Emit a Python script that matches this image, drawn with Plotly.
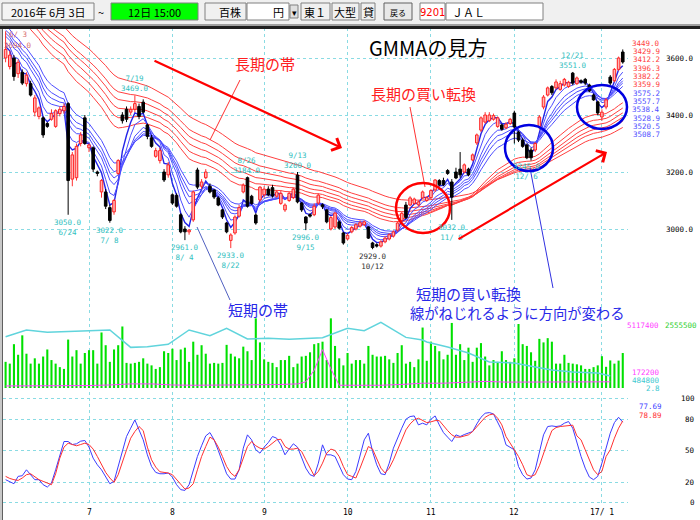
import plotly.graph_objects as go

# ---------------- data ----------------
month_tick_idx = [20, 40, 62, 82, 102, 122, 143]
month_tick_text = ["7", "8", "9", "10", "11", "12", "17/ 1"]
price_ticks = [3000, 3200, 3400, 3600]
price_tick_text = ["3000.0", "3200.0", "3400.0", "3600.0"]
stoch_ticks = [0, 20, 50, 80, 100]

opens = [3600,3570,3600,3545,3550,3510,3510,3410,3395,3390,3370,3385,3360,3405,3415,3440,3175,3180,3300,3390,
         3285,3285,3200,3130,3130,3075,3060,3195,3400,3420,3410,3420,3430,3445,3365,3320,3255,3240,3200,3190,
         3120,3118,3050,3000,2990,3032,3207,3150,3180,3150,3137,3109,3067,3021,2960,2986,3045,3130,3180,3115,3049,3102,
         3120,3140,3145,3115,3090,3067,3100,3110,3189,3091,3042,3050,3050,3091,3085,3067,3000,3007,3025,2986,
         2965,2990,3000,3010,3015,3007,2951,2945,2940,2955,2965,2975,2996,3030,3084,3084,3090,3085,3109,3100,
         3110,3137,3170,3170,3205,3165,3200,3210,3200,3210,3242,3302,3347,3375,3380,3385,3360,3365,3355,3370,
         3407,3340,3312,3295,3277,3277,3358,3428,3470,3500,3495,3490,3505,3500,3547,3510,3520,3525,3505,3470,3446,
         3393,3428,3533,3520,3560,3621]
closes = [3630,3610,3535,3585,3512,3540,3470,3460,3425,3330,3360,3405,3415,3420,3430,3170,3260,3290,3330,3300,
          3295,3210,3195,3170,3080,3030,3100,3240,3380,3385,3420,3440,3395,3410,3325,3290,3275,3275,3172,3225,
          3091,3080,2990,2990,2996,3130,3147,3165,3200,3130,3112,3084,3042,2990,2979,3042,3075,3154,3080,3090,3021,3147,
          3140,3120,3116,3130,3125,3084,3125,3140,3095,3067,3021,3045,3080,3119,3078,3025,3040,3056,3003,2951,
          2978,3005,3015,3022,3025,2968,2935,2940,2955,2968,2980,2990,3021,3055,3040,3109,3105,3095,3130,3110,
          3135,3172,3155,3155,3195,3112,3179,3190,3225,3190,3260,3330,3390,3400,3400,3398,3390,3350,3368,3385,
          3358,3312,3290,3250,3250,3300,3393,3463,3495,3478,3516,3510,3525,3515,3512,3530,3515,3512,3485,3453,3407,
          3410,3453,3512,3560,3600,3586]
highs = [3694,3625,3610,3595,3560,3550,3520,3470,3430,3395,3375,3420,3420,3430,3440,3445,3270,3300,3340,3400,
         3300,3290,3205,3175,3140,3085,3105,3245,3410,3430,3430,3469,3440,3455,3370,3330,3285,3285,3210,3235,
         3125,3125,3055,3010,3000,3135,3215,3175,3210,3160,3140,3115,3070,3025,2985,3048,3085,3160,3184,3120,3055,3150,
         3150,3150,3155,3135,3135,3090,3130,3145,3200,3095,3045,3055,3090,3125,3090,3070,3045,3060,3030,2990,
         2985,3010,3020,3030,3030,3010,2955,2950,2960,2975,2985,2995,3025,3060,3095,3115,3110,3100,3135,3115,
         3140,3175,3175,3180,3210,3175,3215,3270,3230,3215,3265,3335,3395,3410,3410,3405,3395,3370,3375,3390,
         3415,3345,3320,3300,3285,3305,3400,3470,3500,3505,3525,3520,3530,3520,3551,3535,3525,3530,3510,3475,3450,
         3420,3460,3540,3565,3605,3630]
lows = [3585,3560,3520,3530,3505,3500,3465,3395,3385,3320,3355,3380,3355,3395,3405,3050,3150,3170,3290,3295,
        3270,3200,3185,3110,3070,3022,3050,3190,3370,3375,3400,3410,3385,3405,3315,3285,3250,3230,3165,3180,
        3085,3075,2985,2961,2980,3025,3140,3140,3175,3125,3105,3080,3035,2985,2933,2980,3040,3125,3075,3085,3015,3095,
        3110,3115,3110,3110,3085,3060,3095,3105,3090,3060,2996,3040,3045,3085,3070,3020,2995,3000,2998,2945,
        2960,2985,2995,3005,3010,2965,2929,2935,2935,2950,2960,2970,2990,3025,3035,3080,3085,3080,3105,3095,
        3105,3130,3150,3150,3190,3032,3175,3180,3195,3185,3238,3295,3340,3370,3375,3380,3355,3345,3350,3365,
        3300,3305,3285,3245,3240,3270,3350,3420,3465,3470,3490,3485,3500,3495,3505,3505,3510,3505,3480,3450,3400,
        3380,3420,3505,3515,3555,3580]

volume_k = [955,890,1600,1213,1923,1252,890,1084,890,1149,1407,1020,890,762,697,1768,1149,1381,890,1278,
            1381,1381,890,2027,1562,955,1407,1562,2246,917,890,917,955,1084,890,826,697,762,1342,1278,
            1433,1020,1407,1472,955,1691,1213,1562,1252,890,917,890,917,1575,1252,1149,1084,1510,1342,1020,2543,1665,
            1046,955,917,762,1020,1020,1174,762,890,1149,1174,1304,1600,1639,1691,1020,2543,1536,1084,826,
            1278,890,1020,1020,890,1536,1213,1149,1149,1174,1046,917,1278,1562,890,955,762,1046,2207,994,
            1691,1536,1342,1046,1213,2375,1213,1600,1020,1472,955,1472,1639,1149,826,1020,955,1342,1020,955,
            1084,2336,1600,1536,1304,994,1794,1665,1820,1691,890,890,1213,917,890,865,826,697,697,762,826,
            1161,774,1006,890,1000,1277]

margin_buy_idx = [0,5,10,18,25,30,34,39,44,49,53,58,63,68,76,82,86,90,96,100,101,106,111,116,122,127,131,136,142,145]
margin_buy_k = [3750,4240,4070,4165,4240,2970,3020,3190,4240,3825,4360,3580,3630,3555,3680,4360,4190,4800,3700,3510,
                3360,3000,2560,1900,1830,1535,1315,1170,1095,877]
margin_sell_idx = [0,5,10,15,20,25,30,35,40,45,50,55,60,65,70,72,74,76,78,80,85,90,95,100,105,110,115,120,125,130,135,140,145]
margin_sell_k = [150,150,160,170,180,220,300,300,220,200,200,200,220,250,300,450,1300,2800,1400,200,200,200,260,350,350,
                 430,480,430,430,430,430,450,450]

stoch_k = [22.4,20.8,18.5,25.6,26.2,31.9,27.2,22.4,22.4,17.6,15.3,19.2,31.9,46.3,59.1,59.1,56.2,56.9,59.4,60.1,
           53.7,43.1,36.7,31.9,25.6,18.5,20.8,35.1,51.1,63.9,71.9,79.9,70.3,60.7,46.3,35.1,29.4,28.1,28.1,28.8,
           24.9,17.6,12.8,12.1,17.6,30.4,44.7,55.0,64.5,67.7,60.7,50.5,38.3,28.1,23.0,23.0,31.9,52.7,65.5,60.7,51.1,47.9,
           53.7,58.1,63.9,62.3,55.9,46.3,51.8,56.9,53.7,43.1,33.5,27.2,25.6,38.3,55.9,46.3,46.3,44.7,35.1,27.2,
           23.0,22.4,30.4,46.3,60.7,67.1,49.5,36.7,28.1,27.2,38.3,52.7,63.3,71.9,80.5,83.1,83.7,75.1,76.7,75.1,
           80.5,83.7,75.1,67.7,63.3,59.1,65.5,63.9,65.8,67.1,68.7,76.0,82.4,86.3,86.9,85.6,78.3,69.6,55.9,53.7,
           51.1,35.1,27.2,23.0,24.0,31.9,47.9,65.5,73.5,74.1,73.5,74.1,76.7,78.3,71.9,57.5,44.7,33.5,24.9,22.4,25.6,
           38.3,52.7,67.1,77.3,82.4,77.7]
stoch_d = [25.6,23.6,22.4,21.7,24.0,27.2,28.1,24.9,22.4,20.8,19.2,17.6,28.1,43.1,53.7,57.5,56.2,55.0,56.2,57.5,
           56.2,51.8,44.7,37.7,29.4,24.0,19.8,27.2,39.9,51.1,62.3,68.7,73.5,69.6,53.7,41.5,34.5,30.0,29.4,28.8,
           27.2,22.4,17.6,13.4,14.4,18.5,31.9,44.7,54.3,63.3,60.7,53.7,44.7,35.1,28.8,25.6,31.9,43.1,54.3,59.1,55.0,52.7,
           51.8,54.3,57.5,60.7,61.3,54.3,51.8,51.8,52.7,49.5,41.5,33.5,26.2,30.4,38.3,47.9,51.8,50.5,44.7,35.1,
           27.2,25.6,24.0,33.5,44.7,54.3,51.8,43.1,33.5,28.8,33.5,41.5,51.1,60.7,70.3,76.0,79.9,81.5,79.2,77.3,
           78.0,79.2,79.2,74.1,69.6,65.5,63.3,63.3,64.5,65.5,68.7,73.5,78.3,82.4,84.7,85.6,81.5,75.1,63.9,57.5,
           51.8,44.7,36.7,27.2,25.6,27.2,35.8,47.9,59.1,69.6,72.5,73.5,74.1,74.8,74.8,64.5,60.7,51.1,41.5,31.9,27.2,
           30.4,44.7,51.1,62.3,71.9,78.9]

short_periods = [3, 5, 8, 10, 12, 15]
long_periods = [30, 35, 40, 45, 50, 60]
short_seed = [3650, 3665, 3690, 3700, 3710, 3725]
long_seed = [3790, 3810, 3825, 3840, 3850, 3870]
short_last_text = ["3575.2", "3557.7", "3538.4", "3528.9", "3520.5", "3508.7"]
long_last_text = ["3449.0", "3429.9", "3412.2", "3396.3", "3382.2", "3359.9"]

# (index, line1, line2, kind)  high labels sit above the candle, low labels below
extreme_labels = [
    (15, "3050.0", "6/24", "low"), (25, "3022.0", "7/ 8", "low"), (31, "7/19", "3469.0", "high"),
    (43, "2961.0", "8/ 4", "low"), (54, "2933.0", "8/22", "low"), (58, "8/26", "3184.0", "high"),
    (70, "9/13", "3200.0", "high"), (72, "2996.0", "9/15", "low"), (88, "2929.0", "10/12", "low"),
    (107, "3032.0", "11/ 9", "low"), (125, "3245.0", "12/ 6", "low"), (136, "12/21", "3551.0", "high"),
]

# ---------------- helpers ----------------
W, H = 700, 520
def PX(x): return x / W
def PY(y): return 1 - y / H

def ema(vals, n, seed):
    a = 2.0 / (n + 1)
    e = seed
    out = []
    for v in vals:
        e += a * (v - e)
        out.append(e)
    return out

N = len(closes)
idx = list(range(N))
MONO = "DejaVu Sans Mono"
JP = "Noto Sans CJK JP"
GRID = "#8adbe3"

fig = go.Figure()

# GMMA lines (base price subplot)
for n, s in zip(long_periods, long_seed):
    fig.add_trace(go.Scatter(x=idx, y=ema(closes, n, s), mode="lines",
                             line=dict(color="#ff4040", width=1), xaxis="x", yaxis="y",
                             hoverinfo="skip", showlegend=False))
for k, (n, s) in enumerate(zip(short_periods, short_seed)):
    fig.add_trace(go.Scatter(x=idx, y=ema(closes, n, s), mode="lines",
                             line=dict(color="#2424e8" if k == 0 else "#4c4cff", width=1.4 if k == 0 else 1),
                             xaxis="x", yaxis="y", hoverinfo="skip", showlegend=False))

# candles on an overlay subplot so they sit above the averages
body_base = [min(o, c) for o, c in zip(opens, closes)]
body_h = [abs(c - o) for o, c in zip(opens, closes)]
up = [c >= o for o, c in zip(opens, closes)]
for col, flag in (("#ff3030", True), ("#000000", False)):
    wx, wy = [], []
    for i in idx:
        if up[i] != flag:
            continue
        top, bot = max(opens[i], closes[i]), min(opens[i], closes[i])
        wx += [i, i, None, i, i, None]
        wy += [highs[i], top, None, bot, lows[i], None]
    fig.add_trace(go.Scatter(x=wx, y=wy, mode="lines", line=dict(color=col, width=1),
                             xaxis="x4", yaxis="y5", hoverinfo="skip", showlegend=False))
fig.add_trace(go.Bar(x=idx, y=body_h, base=body_base, width=0.62,
                     marker=dict(color=["#ffb4b4" if u else "#000000" for u in up],
                                 line=dict(color=["#ff2020" if u else "#000000" for u in up], width=1)),
                     xaxis="x4", yaxis="y5", hoverinfo="skip", showlegend=False))

# volume
fig.add_trace(go.Bar(x=idx, y=volume_k, width=0.5, marker=dict(color="#00e000", line=dict(width=0)),
                     xaxis="x2", yaxis="y2", hoverinfo="skip", showlegend=False))
fig.add_trace(go.Scatter(x=margin_buy_idx, y=margin_buy_k, mode="lines", line=dict(color="#60d4dc", width=1.5),
                         xaxis="x2", yaxis="y3", hoverinfo="skip", showlegend=False))
fig.add_trace(go.Scatter(x=margin_sell_idx, y=margin_sell_k, mode="lines", line=dict(color="#ff40ff", width=1),
                         xaxis="x2", yaxis="y3", hoverinfo="skip", showlegend=False))

# stochastic
fig.add_trace(go.Scatter(x=idx, y=stoch_k, mode="lines", line=dict(color="#3c3cff", width=1),
                         xaxis="x3", yaxis="y4", hoverinfo="skip", showlegend=False))
fig.add_trace(go.Scatter(x=idx, y=stoch_d, mode="lines", line=dict(color="#ff3030", width=1),
                         xaxis="x3", yaxis="y4", hoverinfo="skip", showlegend=False))

XDOM = [PX(3), PX(628)]
XR = [(3 - 5.6) / 4.17, (628 - 5.6) / 4.17]
xcommon = dict(domain=XDOM, range=XR, tickvals=month_tick_idx, showticklabels=False, showgrid=True,
               gridcolor=GRID, griddash="dot", gridwidth=1, zeroline=False, showline=False, ticks="")
price_lo = 3600 - (316 - 58) / 0.285
price_hi = 3600 + (58 - 28) / 0.285
annotations = []
shapes = []

layout = dict(
    width=W, height=H, margin=dict(l=0, r=0, t=0, b=0), paper_bgcolor="white", plot_bgcolor="white",
    barmode="overlay", showlegend=False, hovermode=False,
    xaxis=dict(xcommon, anchor="y"),
    yaxis=dict(domain=[PY(316), PY(28)], range=[price_lo, price_hi], tickvals=price_ticks, showticklabels=False,
               showgrid=True, gridcolor=GRID, griddash="dot", zeroline=False, ticks=""),
    xaxis4=dict(domain=XDOM, range=XR, overlaying="x", anchor="y5", showgrid=False, showticklabels=False,
                zeroline=False, ticks=""),
    yaxis5=dict(domain=[PY(316), PY(28)], range=[price_lo, price_hi], overlaying="y", anchor="x4",
                showgrid=False, showticklabels=False, zeroline=False, ticks=""),
    xaxis2=dict(xcommon, anchor="y2", matches="x"),
    yaxis2=dict(domain=[PY(388), PY(318)], range=[0, 2555.5], showgrid=False, showticklabels=False,
                zeroline=False, ticks=""),
    yaxis3=dict(overlaying="y2", range=[0, 5117.4], showgrid=False, showticklabels=False, zeroline=False,
                ticks="", anchor="x2"),
    xaxis3=dict(xcommon, anchor="y4", matches="x"),
    yaxis4=dict(domain=[PY(506), PY(392)], range=[-2.9, 106.7], tickvals=stoch_ticks, showticklabels=False,
                showgrid=True, gridcolor=GRID, griddash="dot", zeroline=False, ticks=""),
)

def txt(x, y, s, color="black", size=7.5, family=MONO, xanchor="center", yanchor="middle"):
    annotations.append(dict(x=PX(x), y=PY(y), xref="paper", yref="paper", text=s, showarrow=False,
                            font=dict(color=color, size=size, family=family), xanchor=xanchor, yanchor=yanchor))

# right-hand price scale
for v, s in zip(price_ticks, price_tick_text):
    annotations.append(dict(x=PX(696), y=v, xref="paper", yref="y", text=s, showarrow=False, xanchor="right",
                            yanchor="middle", font=dict(size=7.5, family=MONO, color="black")))
# last-value labels of the averages
for k, s in enumerate(long_last_text + short_last_text):
    txt(662, 43.3 + 8.33 * k, s, color="#ff4040" if k < 6 else "#5050ff", xanchor="right")

# extreme labels
for i, a, b, kind in extreme_labels:
    col = "#303030" if a.startswith("2929") else "#30c0c0"
    if kind == "high":
        annotations.append(dict(x=i, y=highs[i], xref="x", yref="y", text=a + "<br>" + b, showarrow=False,
                                yanchor="bottom", xanchor="center", yshift=0,
                                font=dict(size=7.5, family=MONO, color=col)))
    else:
        annotations.append(dict(x=i, y=lows[i], xref="x", yref="y", text=a + "<br>" + b, showarrow=False,
                                yanchor="top", xanchor="center", yshift=-1,
                                font=dict(size=7.5, family=MONO, color=col)))
txt(18, 35, "6/ 3", color="#d87070")
txt(18, 45, "3694.0", color="#d87070")

# volume / stochastic labels
txt(661, 325, "5117400", color="#ff40ff", xanchor="right")
txt(699, 325, "2555500", color="#30d030", xanchor="right")
txt(662, 372, "172200", color="#ff40ff", xanchor="right")
txt(662, 380, "484800", color="#40c8d0", xanchor="right")
txt(662, 388, "2.8", color="#40c8d0", xanchor="right")
for v in stoch_ticks:
    annotations.append(dict(x=PX(697), y=v, xref="paper", yref="y4", text=str(v), showarrow=False,
                            xanchor="right", yanchor="middle", font=dict(size=7.5, family=MONO, color="black")))
annotations.append(dict(x=PX(664), y=100, xref="paper", yref="y4", text="77.69", showarrow=False, yshift=-8,
                        xanchor="right", font=dict(size=7.5, family=MONO, color="#4040ff")))
annotations.append(dict(x=PX(664), y=100, xref="paper", yref="y4", text="78.89", showarrow=False, yshift=-17,
                        xanchor="right", font=dict(size=7.5, family=MONO, color="#ff3030")))
for i, s in zip(month_tick_idx, month_tick_text):
    annotations.append(dict(x=i, y=PY(512), xref="x3", yref="paper", text=s, showarrow=False,
                            xanchor="center", yanchor="middle", font=dict(size=8, family=MONO, color="black")))

# commentary text
txt(428, 47, "GMMAの見方", size=20, family=JP)
txt(265, 63, "長期の帯", color="#ff2020", size=15, family=JP)
txt(423, 93, "長期の買い転換", color="#ff2020", size=15, family=JP)
txt(258, 309, "短期の帯", color="#2828e8", size=15, family=JP)
txt(468, 293, "短期の買い転換", color="#2828e8", size=15, family=JP)
txt(408, 312, "線がねじれるように方向が変わる", color="#2828e8", size=14.3, family=JP, xanchor="left")

def line(x0, y0, x1, y1, color, width=1):
    shapes.append(dict(type="line", xref="paper", yref="paper", x0=PX(x0), y0=PY(y0), x1=PX(x1), y1=PY(y1),
                       line=dict(color=color, width=width)))
def ellipse(cx, cy, rx, ry, color):
    shapes.append(dict(type="circle", xref="paper", yref="paper", x0=PX(cx - rx), x1=PX(cx + rx),
                       y0=PY(cy + ry), y1=PY(cy - ry), line=dict(color=color, width=2.5)))
def arrow(x0, y0, x1, y1, color):
    annotations.append(dict(x=PX(x1), y=PY(y1), xref="paper", yref="paper", ax=x0 - x1, ay=y0 - y1,
                            axref="pixel", ayref="pixel", text="", showarrow=True, arrowhead=4,
                            arrowsize=1.2, arrowwidth=2.2, arrowcolor=color))

line(240, 80, 210, 140, "#ff3030")
line(410, 107, 425, 187, "#ff3030")
line(197, 227, 230, 300, "#5060c0")
line(530, 168, 553, 288, "#3030e0")
ellipse(423, 208, 27, 25, "#ff0000")
ellipse(529, 148, 24, 23, "#0000e0")
ellipse(602, 107, 25, 22, "#0000e0")
arrow(153, 60, 342, 148, "#ff0000")
arrow(457, 240, 607, 152, "#ff0000")

# toolbar
def rect(x0, y0, x1, y1, fill, border=None, bw=1):
    shapes.append(dict(type="rect", xref="paper", yref="paper", x0=PX(x0), x1=PX(x1), y0=PY(y1), y1=PY(y0),
                       fillcolor=fill, line=dict(color=border or fill, width=bw if border else 0), layer="above"))
rect(0, 0, 700, 24, "#f0f0f0")
rect(0, 24, 700, 26, "#a0a0a0")
rect(0, 26, 700, 29, "#202020")
rect(0, 29, 2, 520, "#c8c8c8")
line(2.5, 29, 2.5, 520, "#606060", 1)
rect(2, 3, 94, 20, "#f4f4f4", "#808080")
txt(48, 12, "2016年 6月 3日", size=11, family=JP)
txt(101, 12, "~", size=11, family=JP)
rect(111, 3, 198, 20, "#00ff00", "#808080")
txt(154, 12, "12日 15:00", size=11, family=JP)
rect(205, 3, 246, 20, "#f0f0f0", "#808080")
txt(243, 12, "百株", size=11, family=JP, xanchor="right")
rect(247, 3, 289, 20, "#ffffff", "#808080")
txt(286, 12, "円", size=11, family=JP, xanchor="right")
rect(290, 5, 298, 18, "#e0e0e0", "#808080")
txt(294, 12, "▾", size=9, family=JP)
rect(301, 3, 330, 20, "#f0f0f0", "#808080")
txt(315, 12, "東１", size=11, family=JP)
rect(332, 3, 359, 20, "#f0f0f0", "#808080")
txt(345, 12, "大型", size=11, family=JP)
rect(361, 3, 375, 20, "#f0f0f0", "#808080")
txt(368, 12, "貸", size=11, family=JP)
rect(384, 3, 412, 20, "#e8e8e8", "#606060")
txt(398, 12, "戻る", size=8, family=JP)
rect(420, 3, 445, 20, "#ffffff", "#808080")
txt(432, 12, "9201", color="#ff0000", size=10, family="DejaVu Sans")
rect(446, 3, 543, 20, "#ffffff", "#808080")
txt(450, 12, "ＪＡＬ", size=11, family=JP, xanchor="left")

layout["annotations"] = annotations
layout["shapes"] = shapes
fig.update_layout(**layout)
fig.write_html("out.html")
